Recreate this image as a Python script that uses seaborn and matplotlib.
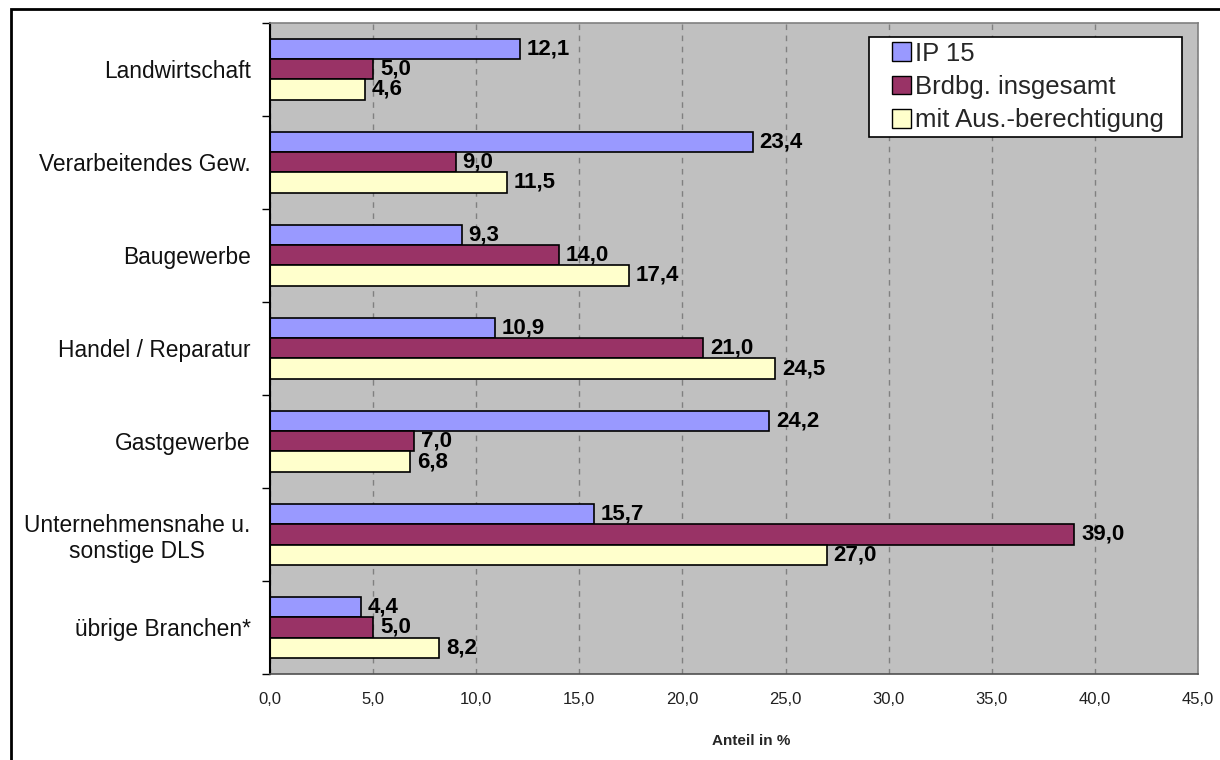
import matplotlib
matplotlib.use("Agg")
import matplotlib.pyplot as plt
from matplotlib.patches import Patch, Rectangle
from matplotlib.ticker import FixedLocator
import seaborn as sns
import pandas as pd

# Branchen (top to bottom) and shares in percent per group
branchen = [
    "Landwirtschaft",
    "Verarbeitendes Gew.",
    "Baugewerbe",
    "Handel / Reparatur",
    "Gastgewerbe",
    "Unternehmensnahe u.\nsonstige DLS",
    "übrige Branchen*",
]
gruppen = ["IP 15", "Brdbg. insgesamt", "mit Aus.-berechtigung"]
ip15 = [12.1, 23.4, 9.3, 10.9, 24.2, 15.7, 4.4]
brdbg = [5.0, 9.0, 14.0, 21.0, 7.0, 39.0, 5.0]
ausberechtigung = [4.6, 11.5, 17.4, 24.5, 6.8, 27.0, 8.2]
x_ticks = [0, 5, 10, 15, 20, 25, 30, 35, 40, 45]

farben = ["#9999FF", "#993366", "#FFFFCC"]

rows = []
for gruppe, werte in zip(gruppen, [ip15, brdbg, ausberechtigung]):
    for b, v in zip(branchen, werte):
        rows.append({"Branche": b, "Gruppe": gruppe, "Anteil": v})
df = pd.DataFrame(rows)

sns.set_style("white")
plt.rcParams["font.family"] = ["Liberation Sans", "DejaVu Sans"]

W, H = 1220, 760
fig = plt.figure(figsize=(W / 100, H / 100), dpi=100)
ax = fig.add_axes([270 / W, 1 - 674 / H, (1198 - 270) / W, (674 - 22.5) / H])
ax.set_facecolor("#C0C0C0")

sns.barplot(
    data=df, y="Branche", x="Anteil", hue="Gruppe",
    order=branchen, hue_order=gruppen, palette=farben,
    orient="h", width=0.655, saturation=1, legend=False,
    edgecolor="black", linewidth=1.2, ax=ax,
)

# value labels with decimal comma
for cont, werte in zip(ax.containers, [ip15, brdbg, ausberechtigung]):
    ax.bar_label(cont, labels=[f"{v:.1f}".replace(".", ",") for v in werte],
                 padding=5, fontsize=16, fontweight="bold", color="black")

ax.set_xlim(0, 45)
ax.set_ylim(len(branchen) - 0.5, -0.5)
ax.set_xticks(x_ticks)
ax.set_xticklabels([f"{t:.1f}".replace(".", ",") for t in x_ticks], fontsize=12)
ax.tick_params(axis="x", length=0, pad=13, colors="#202020")

ax.set_yticks(range(len(branchen)))
ax.set_yticklabels(branchen, fontsize=16.4, multialignment="center", color="#111111")
ax.tick_params(axis="y", which="major", length=0, pad=14)
ax.yaxis.set_minor_locator(FixedLocator([i - 0.5 for i in range(len(branchen) + 1)]))
ax.tick_params(axis="y", which="minor", length=6, width=1, color="black", direction="out", left=True)

ax.set_xlabel("")
ax.set_ylabel("")

ax.set_axisbelow(True)
ax.xaxis.grid(True, linestyle=(0, (4, 4)), color="#808080", linewidth=1)
ax.yaxis.grid(False)

for side in ["top", "right"]:
    ax.spines[side].set_color("#808080")
    ax.spines[side].set_linewidth(1.2)
ax.spines["bottom"].set_color("#505050")
ax.spines["bottom"].set_linewidth(1.2)
ax.spines["left"].set_color("black")
ax.spines["left"].set_linewidth(1.5)

# legend box with wider side margins than the vertical ones
lx0, lx1, ly0, ly1 = 869, 1182, 37, 137
fig.patches.append(Rectangle((lx0 / W, 1 - ly1 / H), (lx1 - lx0) / W, (ly1 - ly0) / H,
                             transform=fig.transFigure, facecolor="white",
                             edgecolor="black", linewidth=1.2, zorder=2))
handles = [Patch(facecolor=c, edgecolor="black", linewidth=1) for c in farben]
leg = fig.legend(
    handles, gruppen, loc="center left",
    bbox_to_anchor=(892 / W, 1 - (ly0 + ly1) / 2 / H),
    fontsize=18.5, frameon=False,
    handlelength=0.75, handleheight=0.75,
    handletextpad=0.15, labelspacing=0.36, borderpad=0, borderaxespad=0,
)
leg.set_zorder(5)

fig.text(751 / W, 1 - 741 / H, "Anteil in %", fontsize=11,
         fontweight="bold", ha="center", va="center")

# outer chart frame
fig.patches.append(Rectangle((11 / W, -0.05), 1.2, 1 - 9 / H + 0.05,
                             transform=fig.transFigure, fill=False,
                             edgecolor="black", linewidth=2))

fig.savefig("out.png", dpi=100)
